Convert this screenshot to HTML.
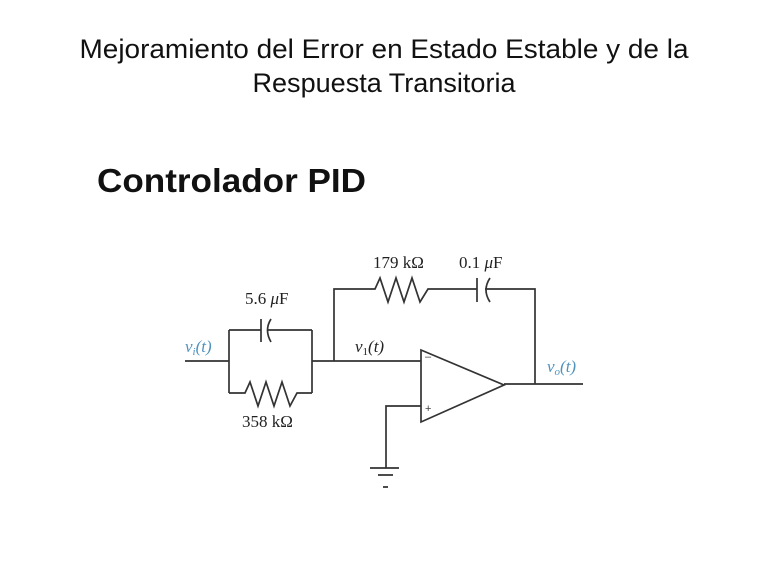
<!DOCTYPE html>
<html><head><meta charset="utf-8"><style>
html,body{margin:0;padding:0;background:#fff;}
svg{display:block;}
</style></head><body>
<svg width="768" height="576" viewBox="0 0 768 576" xmlns="http://www.w3.org/2000/svg">
<rect width="768" height="576" fill="#fff"/>
<text x="384" y="58" font-family="Liberation Sans, sans-serif" font-size="27" text-anchor="middle" textLength="609" lengthAdjust="spacingAndGlyphs" fill="#111">Mejoramiento del Error en Estado Estable y de la</text>
<text x="384" y="92" font-family="Liberation Sans, sans-serif" font-size="27" text-anchor="middle" textLength="263" lengthAdjust="spacingAndGlyphs" fill="#111">Respuesta Transitoria</text>
<text x="97" y="192" font-family="Liberation Sans, sans-serif" font-size="33" font-weight="bold" textLength="269" lengthAdjust="spacingAndGlyphs" fill="#111">Controlador PID</text>

<g stroke="#333" stroke-width="1.7" fill="none">
<path d="M185 361 H229"/>
<path d="M229 330 V393"/>
<path d="M312 330 V393"/>
<path d="M229 330 H261 M261 319 V342 M271 319 Q264 330 271 342 M267 330 H312"/>
<path d="M229 393 H245 L250 382 L258 406 L266 382 L274 406 L282 382 L290 406 L297 393 H312"/>
<path d="M312 361 H421"/>
<path d="M334 361 V289 H375 L380 278 L388 302 L396 278 L404 302 L412 278 L420 302 L428 289 H477 M477 278 V302 M490 278 Q482 290 490 302 M485 289 H535 V384"/>
<path d="M421 350 L504 385 L421 422 Z"/>
<path d="M504 384 H583"/>
<path d="M421 406 H386 V468"/>
<path d="M370 468 H399 M378 475 H393 M383 487 H388"/>
</g>
<g font-family="Liberation Sans, sans-serif" font-size="11" fill="#444">
<text x="425" y="360">–</text>
<text x="425" y="412">+</text>
</g>
<g font-family="Liberation Serif, serif" font-size="17" fill="#222">
<text x="245" y="304">5.6 <tspan font-style="italic">μ</tspan>F</text>
<text x="373" y="268">179 kΩ</text>
<text x="459" y="268">0.1 <tspan font-style="italic">μ</tspan>F</text>
<text x="242" y="427">358 kΩ</text>
<text x="355" y="352" font-style="italic">v<tspan font-style="normal" font-size="11" dy="3">1</tspan><tspan dy="-3">(t)</tspan></text>
</g>
<g font-family="Liberation Serif, serif" font-size="17" fill="#4f93bd" font-style="italic">
<text x="185" y="352">v<tspan font-size="11" dy="3">i</tspan><tspan dy="-3">(t)</tspan></text>
<text x="547" y="372">v<tspan font-size="11" dy="3">o</tspan><tspan dy="-3">(t)</tspan></text>
</g>
</svg>
</body></html>
